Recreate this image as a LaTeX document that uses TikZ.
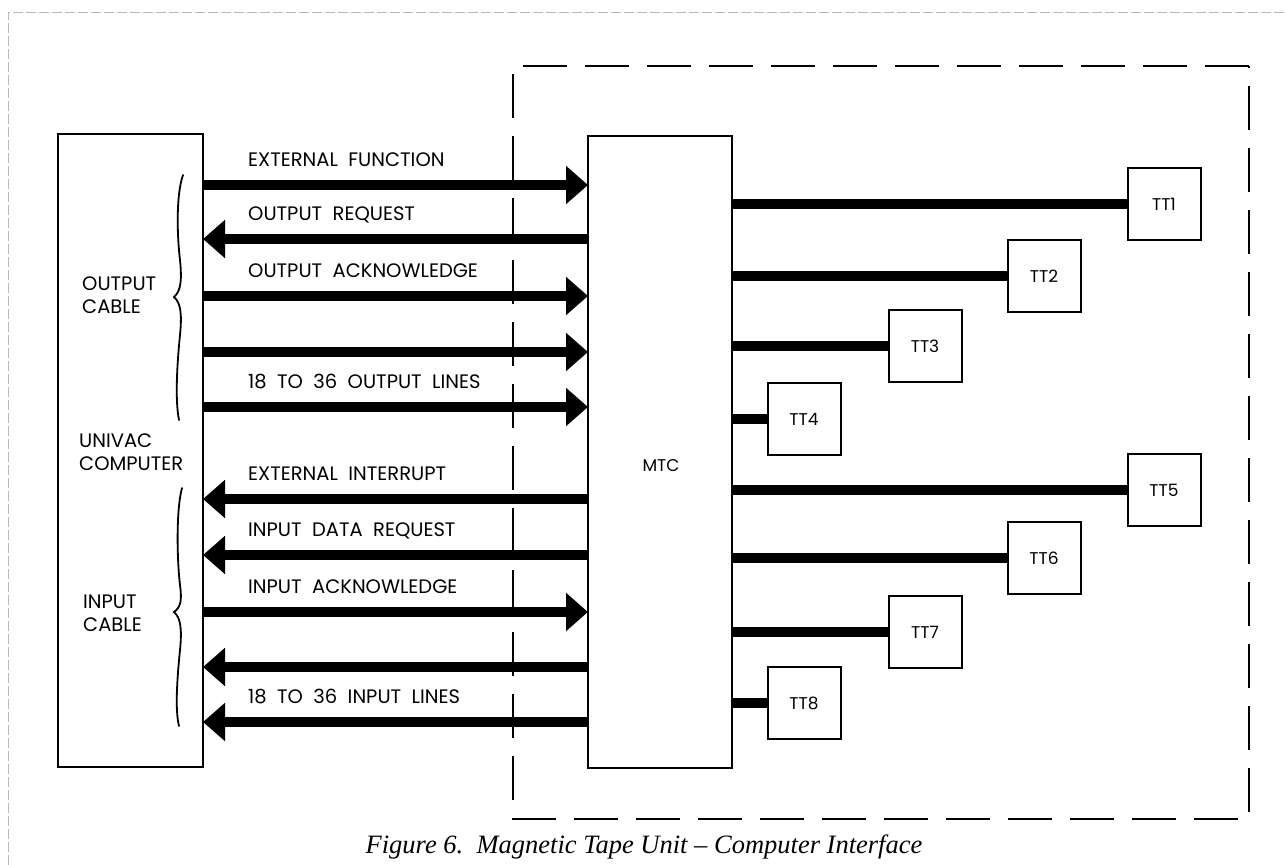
\documentclass[tikz,border=0pt]{standalone}
\usepackage{fontspec}
\setmainfont{Poppins}
\newfontfamily\capfont{Liberation Serif}
\usetikzlibrary{arrows.meta}
\begin{document}
\begin{tikzpicture}[x=1pt,y=-1pt,
  box/.style={draw,line width=2pt,inner sep=0pt,outer sep=0pt},
  ttbox/.style={box,minimum width=73pt,minimum height=72pt,font=\fontsize{17}{17}\selectfont},
  bus/.style={line width=10pt},
  arr/.style={bus,-{Triangle[length=22pt,width=37pt]}},
  lbl/.style={anchor=base west,inner sep=0pt,font=\fontsize{19.5}{19.5}\selectfont},
  side/.style={anchor=west,inner sep=0pt,align=left,font=\fontsize{19.5}{23}\selectfont},
  bracestyle/.style={line width=1.8pt,line cap=round},
  border/.style={gray!55,line width=0.7pt,dash pattern=on 10pt off 3pt}
]
\useasboundingbox (0,0) rectangle (1286,865);
% page border of the scan
\draw[border] (8,865) -- (8,12) -- (1286,12);
% dashed enclosure
\draw[line width=2pt,dash pattern=on 44pt off 18pt] (1249,66) -- (513,66) -- (513,819) -- (1249,819) -- cycle;
% main boxes
\node[box,minimum width=145pt,minimum height=633pt] (cpu) at (130.5,450.5) {};
\node[box,fill=white,minimum width=144pt,minimum height=632pt] (mtc) at (660,452) {};
\node[font=\fontsize{17}{17}\selectfont] (mtclbl) at (661,466) {MTC};
% side texts
\node[side] (outc) at (82,295) {OUTPUT\\CABLE};
\node[side] (univ) at (79,452) {UNIVAC\\COMPUTER};
\node[side] (inc) at (83,613) {INPUT\\CABLE};
% braces
\draw[bracestyle] (183,175) .. controls (176,195) and (177,235) .. (180,260)
  .. controls (182,280) and (181,291) .. (174,297)
  .. controls (181,303) and (182,315) .. (180,335)
  .. controls (177,365) and (175,400) .. (179,420);
\draw[bracestyle] (182,488) .. controls (176,510) and (177,560) .. (180,585)
  .. controls (182,600) and (181,607) .. (174,612)
  .. controls (181,618) and (182,630) .. (180,650)
  .. controls (177,680) and (175,710) .. (179,726);
% arrows to MTC
\foreach \y in {185,296,352,407,612}
  \draw[arr] (cpu.east |- 0,\y) -- (mtc.west |- 0,\y);
% arrows to computer
\foreach \y in {239,499,555,667,722}
  \draw[arr] (mtc.west |- 0,\y) -- (cpu.east |- 0,\y);
% arrow labels
\node[lbl] (l1) at (248,166) {EXTERNAL\ \ FUNCTION};
\node[lbl] (l2) at (248,220) {OUTPUT\ \ REQUEST};
\node[lbl] (l3) at (248,277) {OUTPUT\ \ ACKNOWLEDGE};
\node[lbl] (l4) at (248,388) {18\ \ TO\ \ 36\ \ OUTPUT\ \ LINES};
\node[lbl] (l5) at (248,480) {EXTERNAL\ \ INTERRUPT};
\node[lbl] (l6) at (248,536) {INPUT\ \ DATA\ \ REQUEST};
\node[lbl] (l7) at (248,593) {INPUT\ \ ACKNOWLEDGE};
\node[lbl] (l8) at (248,703) {18\ \ TO\ \ 36\ \ INPUT\ \ LINES};
% tape units
\node[ttbox] (tt1) at (1164,204) {TT1};
\node[ttbox] (tt2) at (1044,276) {TT2};
\node[ttbox] (tt3) at (925,346) {TT3};
\node[ttbox] (tt4) at (804,419) {TT4};
\node[ttbox] (tt5) at (1164,490) {TT5};
\node[ttbox] (tt6) at (1044,558) {TT6};
\node[ttbox] (tt7) at (925,632) {TT7};
\node[ttbox] (tt8) at (804,703) {TT8};
\foreach \t in {tt1,tt2,tt3,tt4,tt5,tt6,tt7,tt8}
  \draw[bus] (mtc.east |- \t.west) -- (\t.west);
% caption
\node[font=\capfont\itshape\fontsize{26.5}{26.5}\selectfont] (cap) at (644,847) {Figure 6.\ \ Magnetic Tape Unit – Computer Interface};
\end{tikzpicture}
\end{document}
